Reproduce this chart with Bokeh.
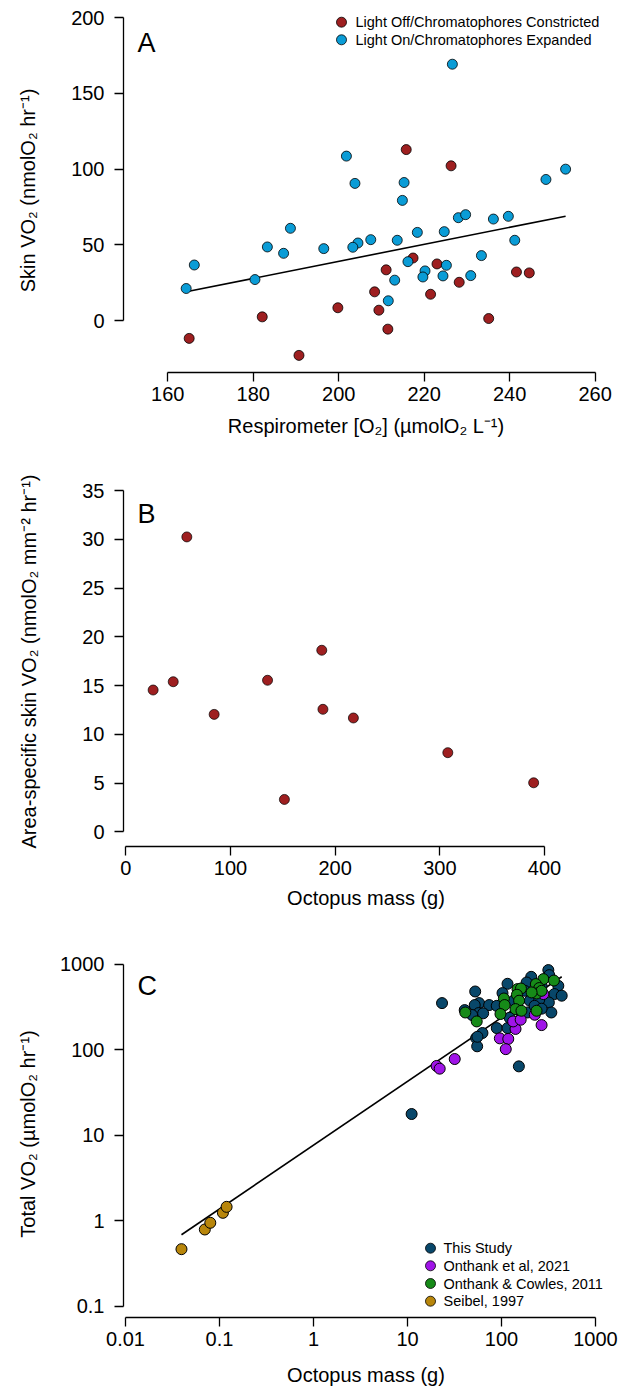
import numpy as np
from bokeh.plotting import figure
from bokeh.layouts import column
from bokeh.models import Range1d, FixedTicker, Label
from bokeh.embed import file_html
from bokeh.resources import INLINE

# ---------------- Panel A : skin VO2 vs respirometer O2 ----------------
a_off_o2 = [215.8, 226.3, 217.4, 211.1, 223.0, 228.2, 241.6, 244.6, 208.4,
            221.5, 209.4, 199.8, 211.5, 235.1, 182.1, 165.0, 190.7]
a_off_vo2 = [112.9, 102.2, 41.4, 33.6, 37.5, 25.4, 32.2, 31.6, 19.1,
             17.5, 7.0, 8.6, -5.5, 1.5, 2.6, -11.6, -22.8]
a_on_o2 = [226.6, 201.8, 203.8, 215.3, 214.9, 248.5, 253.1, 228.0, 229.7,
           236.2, 239.7, 241.2, 218.4, 224.7, 213.7, 207.5, 204.5, 203.3,
           196.5, 188.7, 183.3, 187.1, 180.4, 166.2, 164.3, 216.2, 220.2,
           219.7, 225.2, 224.4, 230.9, 233.4, 213.1, 211.6]
a_on_vo2 = [169.2, 108.6, 90.6, 91.2, 79.4, 93.2, 100.0, 68.0, 70.0,
            67.1, 68.9, 53.1, 58.3, 58.8, 53.1, 53.5, 51.3, 48.5,
            47.6, 61.0, 48.7, 44.5, 27.2, 36.8, 21.3, 39.0, 32.9,
            28.9, 36.6, 29.6, 29.8, 43.0, 26.8, 13.2]
a_fit_intercept = -72.9
a_fit_slope = 0.5605
a_xticks = [160, 180, 200, 220, 240, 260]
a_yticks = [0, 50, 100, 150, 200]
a_labels = ["Light Off/Chromatophores Constricted",
            "Light On/Chromatophores Expanded"]

# ---------------- Panel B : area-specific skin VO2 vs mass ----------------
b_mass = [26.1, 45.3, 58.3, 84.4, 135.4, 151.5, 187.2, 188.3, 217.4, 307.6, 389.6]
b_vo2 = [14.55, 15.4, 30.26, 12.05, 15.55, 3.32, 18.63, 12.57, 11.68, 8.12, 5.03]
b_xticks = [0, 100, 200, 300, 400]
b_yticks = [0, 5, 10, 15, 20, 25, 30, 35]

# ---------------- Panel C : total VO2 vs mass (log-log) ----------------
c_this_mass = [23.3, 52.5, 115.9, 102.5, 57.8, 73.9, 51.9, 40.6, 57.3, 48.7,
               62.7, 53.7, 55.1, 89.1, 115.9, 207, 315, 402, 365, 319,
               339, 185, 177, 200, 189, 11.06, 153, 55.5, 252, 267,
               225, 134, 156, 89, 437, 267, 122, 63.8, 322]
c_this_vo2 = [349, 477, 587, 457, 349, 331, 331, 289, 267, 253,
              156, 136, 109, 178, 178, 708, 849, 556, 445, 355,
              271, 608, 486, 372, 271, 17.6, 63.5, 141, 382, 556,
              324, 372, 283, 324, 426, 300, 235, 265, 741]
c_o2021_mass = [31.8, 96, 118, 111, 141, 133, 160, 226, 267, 279, 20.4, 22.0]
c_o2021_vo2 = [77.4, 135, 133, 101, 174, 213, 223, 255, 193, 445, 64.2, 59.7]
c_o2011_mass = [41.2, 54.5, 106, 108, 97.5, 148, 161, 146, 154, 141,
                163, 279, 361, 232, 252, 236, 267, 236, 209]
c_o2011_vo2 = [271, 213, 395, 331, 260, 509, 517, 437, 372, 297,
               284, 666, 641, 582, 523, 452, 486, 284, 465]
c_s1997_mass = [0.0394, 0.0698, 0.0798, 0.1087, 0.119]
c_s1997_vo2 = [0.462, 0.785, 0.94, 1.23, 1.445]
c_fit_coef = 7.6
c_fit_exp = 0.746
c_xticks = [0.01, 0.1, 1, 10, 100, 1000]
c_xtick_labels = ["0.01", "0.1", "1", "10", "100", "1000"]
c_yticks = [0.1, 1, 10, 100, 1000]
c_ytick_labels = ["0.1", "1", "10", "100", "1000"]
c_labels = ["This Study", "Onthank et al, 2021", "Onthank & Cowles, 2011", "Seibel, 1997"]

# ---------------- styling ----------------
FONT = "Liberation Sans"
RED = "#9E1F20"
BLUE = "#0A9CD6"
NAVY = "#08476A"
PURPLE = "#A014E8"
GREEN = "#168A18"
GOLD = "#B8860B"
W = 620
LEFT = 123      # frame left (px)
RIGHT = 608     # frame right (px)
FW = RIGHT - LEFT


def base_fig(h, top, fh, bottom, xr, yr, ylab_standoff, xlab_standoff, **kw):
    p = figure(width=W, height=h, x_range=xr, y_range=yr, output_backend="svg",
               toolbar_location=None, min_border_left=LEFT, min_border_right=W - RIGHT,
               min_border_top=top, min_border_bottom=bottom, **kw)
    p.outline_line_color = None
    p.grid.visible = False
    p.background_fill_color = "white"
    p.border_fill_color = "white"
    for ax in (p.xaxis[0], p.yaxis[0]):
        ax.axis_line_width = 1.3
        ax.axis_line_color = "black"
        ax.major_tick_line_width = 1.3
        ax.major_tick_line_color = "black"
        ax.major_tick_out = 9
        ax.major_tick_in = 0
        ax.minor_tick_out = 0
        ax.minor_tick_in = 0
        ax.major_label_text_font = FONT
        ax.major_label_text_font_size = "20px"
        ax.major_label_text_color = "black"
        ax.axis_label_text_font = FONT
        ax.axis_label_text_font_size = "20px"
        ax.axis_label_text_font_style = "normal"
        ax.axis_label_text_color = "black"
    p.yaxis[0].major_label_standoff = 10
    p.xaxis[0].major_label_standoff = 5
    p.yaxis[0].axis_label_standoff = ylab_standoff
    p.xaxis[0].axis_label_standoff = xlab_standoff
    return p


def panel_letter(p, letter, y):
    p.add_layout(Label(x=14, y=y, x_units="screen", y_units="screen", text=letter,
                       text_font=FONT, text_font_size="27px", text_color="black",
                       text_baseline="alphabetic", text_align="left"))


def manual_legend(p, labels, colors, dot_sx, text_sx, rows_sy, ftop, fh, to_x, to_y):
    """Legend drawn at a page-pixel position; dots converted to data coordinates."""
    xs = [to_x(dot_sx)] * len(labels)
    ys = [to_y(sy) for sy in rows_sy]
    p.scatter(xs, ys, size=10, fill_color=colors, line_color="black", line_width=0.8)
    for lab, sy in zip(labels, rows_sy):
        p.add_layout(Label(x=text_sx - LEFT, y=(ftop + fh) - sy, x_units="screen",
                           y_units="screen", text=lab, text_font=FONT,
                           text_font_size="14.5px", text_color="black",
                           text_baseline="middle", text_align="left"))


# ---- Panel A  (figure 0..446, frame 8..372)
A_X = (149.63, 263.14)
A_Y = (-34.09, 205.94)
A_TOP, A_FH = 8, 364
pa = base_fig(446, A_TOP, A_FH, 74, Range1d(*A_X), Range1d(*A_Y), 29, 11)
pa.xaxis[0].ticker = FixedTicker(ticks=a_xticks)
pa.yaxis[0].ticker = FixedTicker(ticks=a_yticks)
pa.xaxis[0].bounds = (min(a_xticks), max(a_xticks))
pa.yaxis[0].bounds = (min(a_yticks), max(a_yticks))
pa.xaxis[0].axis_label = "Respirometer [O\u2082] (\u00b5molO\u2082 L\u207b\u00b9)"
pa.yaxis[0].axis_label = "Skin VO\u2082 (nmolO\u2082 hr\u207b\u00b9)"
all_o2 = np.array(a_off_o2 + a_on_o2)
fx = np.array([all_o2.min(), all_o2.max()])
pa.line(fx, a_fit_intercept + a_fit_slope * fx, line_color="black", line_width=1.6)
pa.scatter(a_off_o2, a_off_vo2, size=10, fill_color=RED, line_color="black", line_width=0.8)
pa.scatter(a_on_o2, a_on_vo2, size=10, fill_color=BLUE, line_color="black", line_width=0.8)
manual_legend(pa, a_labels, [RED, BLUE], 341, 355, [21.7, 39.3], A_TOP, A_FH,
              lambda sx: A_X[0] + (sx - LEFT) / FW * (A_X[1] - A_X[0]),
              lambda sy: A_Y[1] - (sy - A_TOP) / A_FH * (A_Y[1] - A_Y[0]))
panel_letter(pa, "A", A_FH - 34)

# ---- Panel B  (figure 446..920, frame 476..846)
B_X = (-2.2, 461.1)
B_Y = (-1.508, 36.46)
pb = base_fig(474, 30, 370, 74, Range1d(*B_X), Range1d(*B_Y), 39, 9)
pb.xaxis[0].ticker = FixedTicker(ticks=b_xticks)
pb.yaxis[0].ticker = FixedTicker(ticks=b_yticks)
pb.xaxis[0].bounds = (min(b_xticks), max(b_xticks))
pb.yaxis[0].bounds = (min(b_yticks), max(b_yticks))
pb.xaxis[0].axis_label = "Octopus mass (g)"
pb.yaxis[0].axis_label = "Area-specific skin VO\u2082 (nmolO\u2082 mm\u207b\u00b2 hr\u207b\u00b9)"
pb.scatter(b_mass, b_vo2, size=10, fill_color=RED, line_color="black", line_width=0.7)
panel_letter(pb, "B", 370 - 37)

# ---- Panel C  (figure 920..1391, frame 950..1317)
C_LX = (-2.0213, 3.1383)
C_LY = (-1.1345, 3.158)
C_TOP_ABS, C_FH = 950, 367
pc = base_fig(471, 30, C_FH, 74, Range1d(10 ** C_LX[0], 10 ** C_LX[1]),
              Range1d(10 ** C_LY[0], 10 ** C_LY[1]), 18, 15,
              x_axis_type="log", y_axis_type="log")
pc.xaxis[0].ticker = FixedTicker(ticks=c_xticks)
pc.yaxis[0].ticker = FixedTicker(ticks=c_yticks)
pc.xaxis[0].major_label_overrides = {t: s for t, s in zip(c_xticks, c_xtick_labels)}
pc.yaxis[0].major_label_overrides = {t: s for t, s in zip(c_yticks, c_ytick_labels)}
pc.xaxis[0].bounds = (min(c_xticks), max(c_xticks))
pc.yaxis[0].bounds = (min(c_yticks), max(c_yticks))
pc.xaxis[0].axis_label = "Octopus mass (g)"
pc.yaxis[0].axis_label = "Total VO\u2082 (\u00b5molO\u2082 hr\u207b\u00b9)"
all_m = np.array(c_this_mass + c_o2021_mass + c_o2011_mass + c_s1997_mass)
mx = np.array([all_m.min(), all_m.max()])
pc.line(mx, c_fit_coef * mx ** c_fit_exp, line_color="black", line_width=1.6)
pc.scatter(c_this_mass, c_this_vo2, size=11, fill_color=NAVY, line_color="black", line_width=1)
pc.scatter(c_o2021_mass, c_o2021_vo2, size=11, fill_color=PURPLE, line_color="black", line_width=1)
pc.scatter(c_o2011_mass, c_o2011_vo2, size=11, fill_color=GREEN, line_color="black", line_width=1)
pc.scatter(c_s1997_mass, c_s1997_vo2, size=11, fill_color=GOLD, line_color="black", line_width=1)
manual_legend(pc, c_labels, [NAVY, PURPLE, GREEN, GOLD], 430, 443,
              [1247.7, 1265.3, 1283.0, 1300.7], C_TOP_ABS, C_FH,
              lambda sx: 10 ** (C_LX[0] + (sx - LEFT) / FW * (C_LX[1] - C_LX[0])),
              lambda sy: 10 ** (C_LY[1] - (sy - C_TOP_ABS) / C_FH * (C_LY[1] - C_LY[0])))
panel_letter(pc, "C", C_FH - 35)

layout = column(pa, pb, pc, spacing=0)
open("out.html", "w").write(file_html(layout, INLINE))
